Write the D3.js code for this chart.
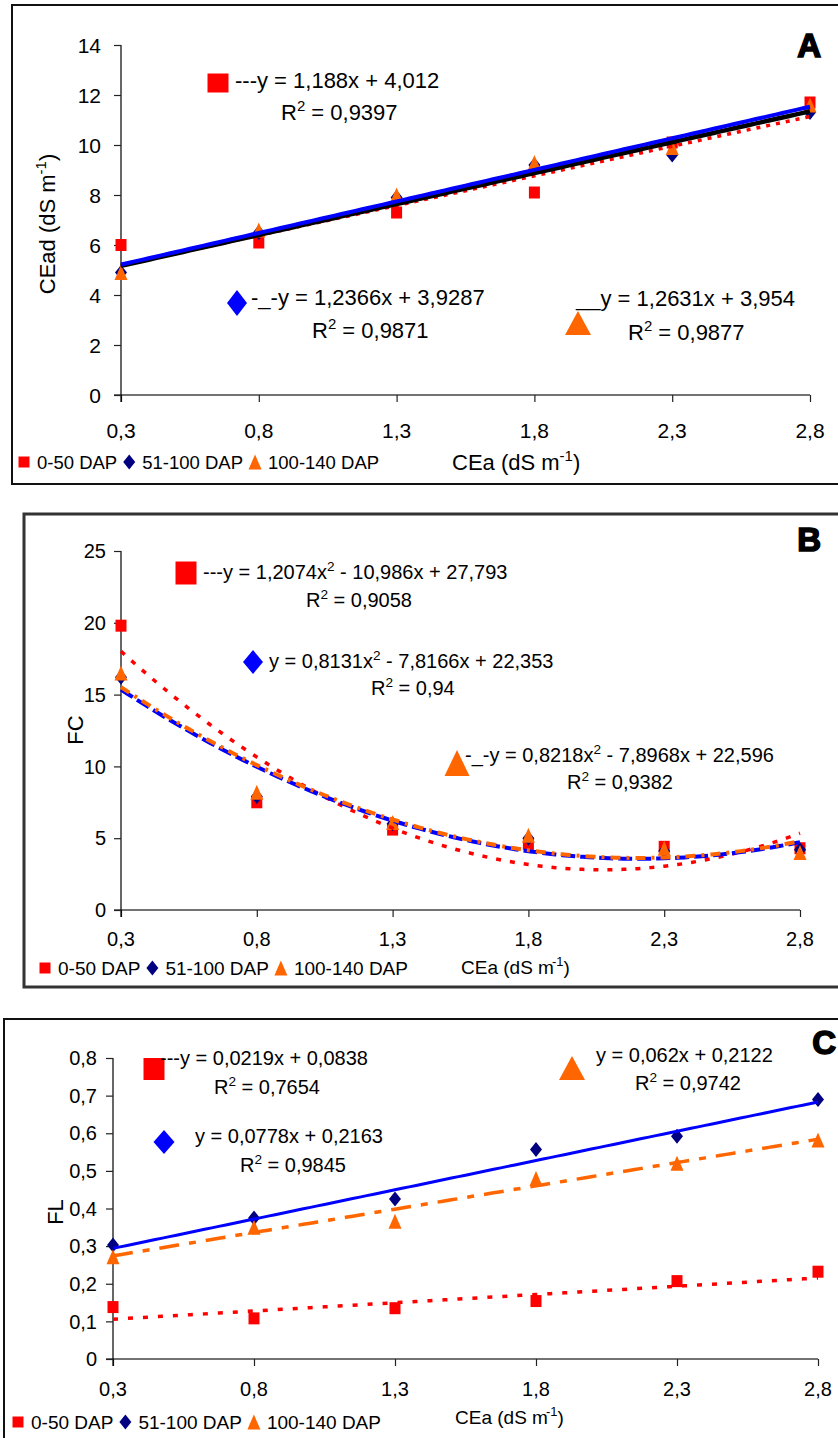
<!DOCTYPE html>
<html>
<head>
<meta charset="utf-8">
<script src="https://cdn.jsdelivr.net/npm/d3@7"></script>
<style>
  body { margin: 0; background: #fff; }
  svg { display: block; }
  text { font-family: "Liberation Sans", Arial, sans-serif; fill: #000; }
</style>
</head>
<body>
<svg id="fig" width="838" height="1438"></svg>
<script>
// ---------- data ----------
const cea = [0.3, 0.8, 1.3, 1.8, 2.3, 2.8];
const ceaTickLabels = ["0,3", "0,8", "1,3", "1,8", "2,3", "2,8"];
const seriesNames = ["0-50 DAP", "51-100 DAP", "100-140 DAP"];

// A: CEad (dS m-1)
const ceadDap0_50   = [6.0, 6.1, 7.3, 8.1, 10.1, 11.7];
const ceadDap51_100 = [4.9, 6.5, 7.9, 9.2, 9.6, 11.3];
const ceadDap100_140 = [4.9, 6.6, 8.0, 9.3, 9.9, 11.6];
const ceadTicks = [0, 2, 4, 6, 8, 10, 12, 14];
const ceadFit0_50   = [1.188, 4.012];      // slope, intercept (x = point order 1..6)
const ceadFit51_100 = [1.2366, 3.9287];
const ceadFit100_140 = [1.2631, 3.954];
const ceadR2 = ["0,9397", "0,9871", "0,9877"];

// B: FC
const fcDap0_50   = [19.8, 7.5, 5.6, 4.6, 4.4, 4.3];
const fcDap51_100 = [16.2, 7.9, 6.0, 5.0, 4.1, 4.2];
const fcDap100_140 = [16.5, 8.2, 6.1, 5.2, 4.3, 4.0];
const fcTicks = [0, 5, 10, 15, 20, 25];
const fcFit0_50   = [1.2074, -10.986, 27.793];   // a x² + b x + c
const fcFit51_100 = [0.8131, -7.8166, 22.353];
const fcFit100_140 = [0.8218, -7.8968, 22.596];
const fcR2 = ["0,9058", "0,94", "0,9382"];

// C: FL
const flDap0_50   = [0.138, 0.108, 0.135, 0.154, 0.207, 0.232];
const flDap51_100 = [0.303, 0.375, 0.425, 0.557, 0.592, 0.69];
const flDap100_140 = [0.272, 0.35, 0.366, 0.48, 0.52, 0.582];
const flTicks = [0, 0.1, 0.2, 0.3, 0.4, 0.5, 0.6, 0.7, 0.8];
const flFit0_50   = [0.0219, 0.0838];
const flFit51_100 = [0.0778, 0.2163];
const flFit100_140 = [0.062, 0.2122];
const flR2 = ["0,7654", "0,9845", "0,9742"];

// ---------- styles ----------
const RED = "#ff0000", NAVY = "#000080", ORANGE = "#ff6600", BLUE = "#0000ff";
const svg = d3.select("#fig");

const comma = v => String(Math.abs(v)).replace(".", ",");
// polynomial with highest power first, evaluated at the point order
const poly = (coef, t) => coef.reduce((acc, c) => acc * t + c, 0);

// Equation text parts from coefficients
function eqParts(prefix, coef) {
  if (coef.length === 2) {
    return [[prefix + "y = " + comma(coef[0]) + "x " + (coef[1] < 0 ? "-" : "+") + " " + comma(coef[1]), false]];
  }
  return [
    [prefix + "y = " + comma(coef[0]) + "x", false], ["2", true],
    [" " + (coef[1] < 0 ? "-" : "+") + " " + comma(coef[1]) + "x " + (coef[2] < 0 ? "-" : "+") + " " + comma(coef[2]), false]
  ];
}

function richText(g, x, y, parts, size, opts = {}) {
  const t = g.append("text").attr("x", x).attr("y", y)
    .attr("font-size", size).attr("text-anchor", opts.anchor || "start");
  if (opts.rotate) t.attr("transform", `rotate(-90,${x},${y})`);
  const up = size * 0.42;
  let raised = false;
  parts.forEach(([s, sup]) => {
    const sp = t.append("tspan").text(s);
    if (sup && !raised) { sp.attr("dy", -up).attr("font-size", size * 0.68); raised = true; }
    else if (!sup && raised) { sp.attr("dy", up); raised = false; }
    else if (sup) sp.attr("font-size", size * 0.68);
    if (opts.supShift && sup) sp.attr("dx", opts.supShift);
  });
  return t;
}

function markerPath(type, w, h) {
  const hw = w / 2, hh = h / 2;
  if (type === "square") return `M${-hw},${-hh}H${hw}V${hh}H${-hw}Z`;
  if (type === "diamond") return `M0,${-hh}L${hw},0L0,${hh}L${-hw},0Z`;
  return `M0,${-hh}L${hw},${hh}L${-hw},${hh}Z`;
}
function marker(g, type, x, y, w, h, color) {
  g.append("path").attr("d", markerPath(type, w, h))
    .attr("transform", `translate(${x},${y})`).attr("fill", color);
}

const markerTypes = ["square", "diamond", "triangle"];
const markerColors = [RED, NAVY, ORANGE];
const markerSizes = [[11, 12], [12, 15], [13, 15]];

function drawPanel(p) {
  const g = svg.append("g");
  // frame
  g.append("rect").attr("x", p.box[0]).attr("y", p.box[1])
    .attr("width", p.box[2]).attr("height", p.box[3])
    .attr("fill", "none").attr("stroke", p.frameColor).attr("stroke-width", p.frameWidth);

  const x = d3.scaleLinear().domain([cea[0], cea[cea.length - 1]]).range(p.xRange);
  const y = d3.scaleLinear().domain([0, p.yMax]).range(p.yRange);

  // axes
  const xAxis = d3.axisBottom(x).tickValues(cea).tickSize(7).tickPadding(0).tickFormat("");
  const gx = g.append("g").attr("transform", `translate(0,${p.yRange[0]})`).call(xAxis);
  gx.select(".domain").attr("stroke", "#444").attr("stroke-width", 1.3).attr("d", `M${p.xRange[0] - 7},0H${p.xRange[1]}`);
  gx.selectAll(".tick line").attr("stroke", "#222").attr("stroke-width", 1.2);
  const yAxis = d3.axisLeft(y).tickValues(p.yTicks).tickSize(7).tickFormat("");
  const gy = g.append("g").attr("transform", `translate(${p.xRange[0]},0)`).call(yAxis);
  gy.select(".domain").attr("stroke", "#000").attr("stroke-width", 1.2).attr("d", `M0,${p.yRange[1]}V${p.yRange[0] + 7}`);
  gy.selectAll(".tick line").attr("stroke", "#222").attr("stroke-width", 1.2);

  // tick labels
  g.selectAll(null).data(cea).enter().append("text")
    .attr("x", d => x(d)).attr("y", p.xLabelY).attr("text-anchor", "middle")
    .attr("font-size", p.tickSize).text((d, i) => ceaTickLabels[i]);
  g.selectAll(null).data(p.yTicks).enter().append("text")
    .attr("x", p.yLabelRight).attr("y", d => y(d) + p.tickSize * 0.36).attr("text-anchor", "end")
    .attr("font-size", p.tickSize).text(d => String(d).replace(".", ","));

  // axis titles
  richText(g, p.yTitle[0], p.yTitle[1], p.yTitleParts, p.yTitleSize, { anchor: "middle", rotate: true });
  richText(g, p.xTitle[0], p.xTitle[1], [["CEa (dS m", false], ["-1", true], [")", false]], p.xTitleSize, { supShift: p.supShift || 0 });

  // points
  p.series.forEach((vals, si) => {
    const [w, h] = markerSizes[si];
    vals.forEach((v, i) => marker(g, markerTypes[si], x(cea[i]), y(v), w, h, markerColors[si]));
  });

  // trend curves from the fitted equations (x = point order 1..6)
  const tSamples = d3.range(1, 6.0001, 0.05);
  const line = d3.line().x(d => x(cea[0] + (d[0] - 1) * 0.5)).y(d => y(d[1]));
  p.fits.forEach(f => {
    g.append("path").datum(tSamples.map(t => [t, poly(f.coef, t)]))
      .attr("d", line).attr("fill", "none").attr("stroke", f.color)
      .attr("stroke-width", f.width).attr("stroke-dasharray", f.dash || null);
  });

  // equation annotations
  p.notes.forEach(n => {
    marker(g, n.type, n.m[0], n.m[1], n.m[2], n.m[3], n.color);
    richText(g, n.eq[0], n.eq[1], eqParts(n.prefix, n.coef), p.eqSize);
    richText(g, n.r2[0], n.r2[1], [["R", false], ["2", true], [" = " + n.r2Text, false]], p.eqSize);
  });

  // legend
  let lx = p.legend[0];
  const ly = p.legend[1];
  seriesNames.forEach((name, si) => {
    const [w, h] = markerSizes[si];
    marker(g, markerTypes[si], lx + 6, ly, si === 0 ? 11 : w, si === 0 ? 11 : h, markerColors[si]);
    const t = g.append("text").attr("x", lx + 19).attr("y", ly + 6.5).attr("font-size", p.legendSize).text(name);
    lx += 19 + t.node().getComputedTextLength() + 6;
  });

  // panel letter
  g.append("text").attr("x", p.letter[0]).attr("y", p.letter[1]).attr("text-anchor", "end")
    .attr("font-family", "DejaVu Sans").attr("font-weight", "bold").attr("font-size", 33)
    .attr("stroke", "#000").attr("stroke-width", 1.6).text(p.letter[2]);
}

// ---------- panels ----------
drawPanel({
  box: [12, 5, 840, 479], frameColor: "#111", frameWidth: 2,
  xRange: [121, 810], yRange: [395, 45], yMax: 14, yTicks: ceadTicks,
  tickSize: 21, xLabelY: 438, yLabelRight: 101,
  yTitle: [55, 224], yTitleParts: [["CEad (dS m", false], ["-1", true], [")", false]], yTitleSize: 22,
  xTitle: [452, 470], xTitleSize: 22,
  series: [ceadDap0_50, ceadDap51_100, ceadDap100_140],
  fits: [
    { coef: ceadFit0_50, color: RED, width: 3.5, dash: "4,6" },
    { coef: ceadFit51_100, color: "#000", width: 4.5 },
    { coef: ceadFit100_140, color: BLUE, width: 4 }
  ],
  eqSize: 22,
  notes: [
    { type: "square", color: RED, m: [218, 83, 21, 19], prefix: "---", coef: ceadFit0_50, eq: [235, 88], r2: [281, 120], r2Text: ceadR2[0] },
    { type: "diamond", color: BLUE, m: [237, 303, 20, 26], prefix: "-_-", coef: ceadFit51_100, eq: [251, 305], r2: [312, 338], r2Text: ceadR2[1] },
    { type: "triangle", color: ORANGE, m: [578, 323, 26, 24], prefix: "__", coef: ceadFit100_140, eq: [576, 306], r2: [628, 340], r2Text: ceadR2[2] }
  ],
  legend: [18, 462], legendSize: 18.5,
  letter: [821, 57, "A"]
});

drawPanel({
  box: [24, 514, 840, 473], frameColor: "#333", frameWidth: 3,
  xRange: [121, 800], yRange: [910, 551], yMax: 25, yTicks: fcTicks,
  tickSize: 20, xLabelY: 946, yLabelRight: 106,
  yTitle: [83, 730], yTitleParts: [["FC", false]], yTitleSize: 22,
  xTitle: [461, 974], xTitleSize: 19, supShift: -2,
  series: [fcDap0_50, fcDap51_100, fcDap100_140],
  fits: [
    { coef: fcFit0_50, color: RED, width: 3.5, dash: "5,9" },
    { coef: fcFit51_100, color: BLUE, width: 4, dash: "14,5" },
    { coef: fcFit100_140, color: ORANGE, width: 4, dash: "10,6,3,6" }
  ],
  eqSize: 20,
  notes: [
    { type: "square", color: RED, m: [186, 573, 21, 23], prefix: "---", coef: fcFit0_50, eq: [203, 579], r2: [306, 607], r2Text: fcR2[0] },
    { type: "diamond", color: BLUE, m: [253, 662, 20, 24], prefix: "", coef: fcFit51_100, eq: [269, 668], r2: [371, 695], r2Text: fcR2[1] },
    { type: "triangle", color: ORANGE, m: [457, 763, 25, 26], prefix: "-_-", coef: fcFit100_140, eq: [465, 762], r2: [567, 789], r2Text: fcR2[2] }
  ],
  legend: [39, 968], legendSize: 19,
  letter: [821, 551, "B"]
});

drawPanel({
  box: [4, 1019, 840, 430], frameColor: "#111", frameWidth: 2,
  xRange: [113, 818], yRange: [1359, 1058], yMax: 0.8, yTicks: flTicks,
  tickSize: 20, xLabelY: 1396, yLabelRight: 97,
  yTitle: [63, 1212], yTitleParts: [["FL", false]], yTitleSize: 22,
  xTitle: [455, 1424], xTitleSize: 19, supShift: -2,
  series: [flDap0_50, flDap51_100, flDap100_140],
  fits: [
    { coef: flFit0_50, color: RED, width: 3.5, dash: "5,10" },
    { coef: flFit51_100, color: BLUE, width: 3 },
    { coef: flFit100_140, color: ORANGE, width: 3.5, dash: "20,10,7,10" }
  ],
  eqSize: 20,
  notes: [
    { type: "square", color: RED, m: [154, 1069, 21, 22], prefix: "---", coef: flFit0_50, eq: [160, 1065], r2: [214, 1094], r2Text: flR2[0] },
    { type: "diamond", color: BLUE, m: [164, 1142, 21, 24], prefix: "", coef: flFit51_100, eq: [195, 1143], r2: [240, 1172], r2Text: flR2[1] },
    { type: "triangle", color: ORANGE, m: [572, 1068, 26, 24], prefix: "", coef: flFit100_140, eq: [596, 1062], r2: [635, 1090], r2Text: flR2[2] }
  ],
  legend: [12, 1422], legendSize: 19,
  letter: [836, 1054, "C"]
});
</script>
</body>
</html>
